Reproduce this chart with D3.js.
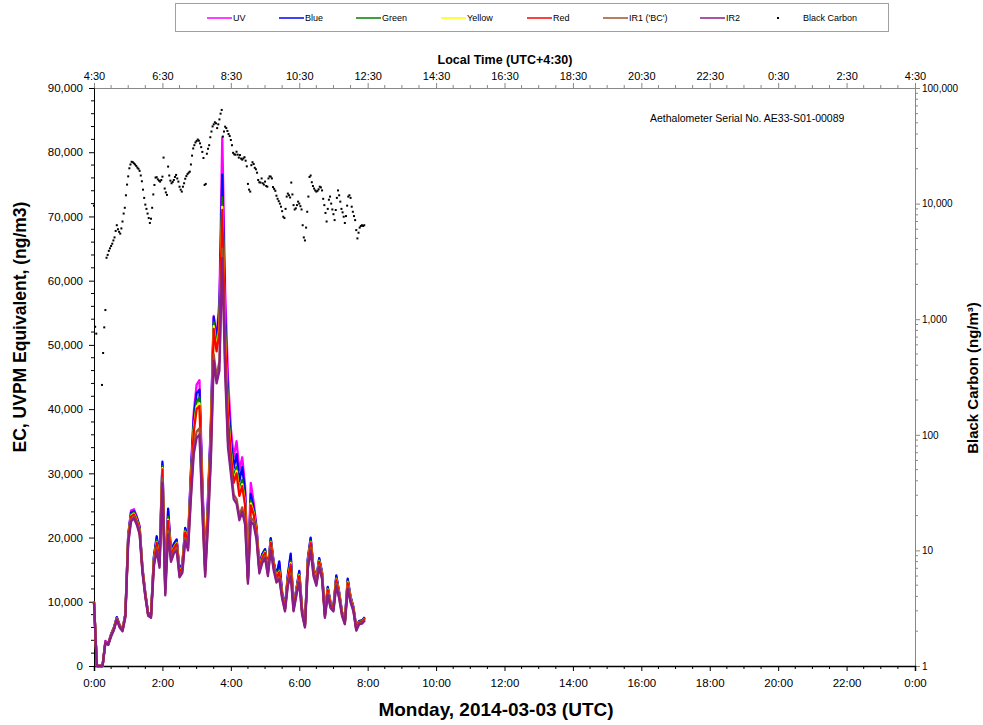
<!DOCTYPE html>
<html>
<head>
<meta charset="utf-8">
<script src="https://cdnjs.cloudflare.com/ajax/libs/d3/7.8.5/d3.min.js"></script>
<style>
  html, body { margin: 0; padding: 0; background: #fff; }
  svg { display: block; font-family: "Liberation Sans", Arial, sans-serif; }
</style>
</head>
<body>
<svg id="chart" width="983" height="725"></svg>
<script>
// Aethalometer AE33 record, Monday 2014-03-03 (UTC). 5-minute means, in µg/m³.
const seriesNames = ["UV", "Blue", "Green", "Yellow", "Red", "IR1 ('BC')", "IR2"];
const seriesColors = ["#ff00ff", "#0000ff", "#008000", "#ffff00", "#ff0000", "#a0522d", "#8b1c8b"];

const uv = [10.0,0,0,0,3.9,3.5,5.0,6.0,7.6,6.4, 5.7,8.1,20.4,24.2,24.4,23.3,21.8,15.3,11.4,8.2,
  8.0,16.8,19.9,16.6,31.4,12.5,24.2,17.7,18.9,19.6, 14.9,15.9,21.4,19.6,30.5,39.5,43.8,44.5,28.8,15.8,
  26.5,38.0,54.5,51.0,57.0,82.3,58.5,45.0,37.0,32.5, 35.0,30.5,32.5,28.0,14.2,28.5,25.5,21.8,15.6,17.4,
  18.1,15.1,19.8,16.2,14.0,16.0,11.3,9.1,14.0,17.2, 9.2,11.9,14.6,8.7,6.5,16.5,19.8,15.2,13.5,16.7,
  14.5,8.1,12.2,9.7,9.2,13.9,11.4,8.4,7.0,13.4, 10.7,9.1,6.0,7.0,7.1,7.6];
const blue = [10.0,0,0,0,3.8,3.5,4.9,6.0,7.6,6.3, 5.7,8.1,20.3,23.9,24.1,23.1,21.6,15.2,11.3,8.2,
  8.0,17.0,20.2,16.8,31.8,12.6,24.5,17.8,19.0,19.7, 14.9,15.9,21.5,19.6,30.0,38.6,42.5,43.0,28.0,15.4,
  25.8,37.3,54.3,50.8,55.5,76.5,54.5,42.0,35.5,30.8, 33.0,28.8,31.0,27.0,13.9,26.8,24.6,21.4,15.5,17.4,
  18.2,15.1,19.9,16.3,14.1,16.3,11.4,9.2,14.2,17.5, 9.3,12.0,14.8,8.8,6.5,16.7,20.0,15.3,13.6,16.8,
  14.6,8.1,12.3,9.8,9.3,14.1,11.5,8.4,7.0,13.6, 10.8,9.2,6.0,7.0,7.1,7.6];
const green = [10.0,0,0,0,3.8,3.5,4.9,5.9,7.5,6.3, 5.6,8.0,20.1,23.6,23.9,22.9,21.4,15.1,11.2,8.1,
  7.9,16.6,19.6,16.4,31.1,12.2,23.2,17.4,18.6,19.3, 14.6,15.6,21.1,19.3,29.2,37.5,41.2,41.8,27.3,15.1,
  25.1,36.4,53.5,50.0,53.5,73.0,52.0,40.0,34.0,29.4, 31.0,27.5,29.0,25.8,13.7,25.8,24.1,21.1,15.3,17.1,
  17.9,14.9,19.5,16.0,13.9,15.0,11.2,9.0,13.7,16.3, 9.1,11.8,14.3,8.6,6.4,16.3,19.5,15.0,13.4,16.5,
  14.4,8.0,12.0,9.6,9.1,13.7,11.3,8.3,6.9,13.2, 10.6,9.0,5.9,6.9,7.0,7.5];
const yellow = [10.0,0,0,0,3.7,3.4,4.8,5.8,7.4,6.2, 5.6,7.9,19.9,23.4,23.7,22.7,21.2,15.0,11.1,8.0,
  7.8,16.4,19.3,16.2,30.8,12.0,22.8,17.2,18.4,19.1, 14.5,15.4,20.9,19.1,28.7,36.8,40.4,40.9,26.8,14.9,
  24.7,35.8,52.9,49.4,52.5,71.5,51.0,39.0,33.4,28.8, 30.4,26.8,28.3,25.3,13.6,25.3,23.8,20.9,15.2,16.9,
  17.7,14.8,19.3,15.9,13.8,14.7,11.1,8.9,13.5,16.0, 9.0,11.7,14.1,8.5,6.3,16.1,19.3,14.9,13.3,16.3,
  14.3,7.9,11.9,9.5,9.0,13.5,11.2,8.2,6.8,13.0, 10.5,8.9,5.8,6.8,6.9,7.4];
const red = [10.0,0,0,0,3.7,3.4,4.8,5.8,7.4,6.2, 5.6,7.9,19.8,23.3,23.6,22.6,21.1,14.9,11.1,8.0,
  7.8,16.3,19.2,16.1,30.6,11.9,22.6,17.1,18.3,19.0, 14.4,15.3,20.8,19.0,28.5,36.5,40.0,40.5,26.6,14.8,
  24.5,35.5,52.5,49.0,52.0,71.0,50.5,38.5,33.0,28.5, 30.0,26.5,28.0,25.0,13.5,25.0,23.6,20.8,15.1,16.8,
  17.6,14.7,19.2,15.8,13.7,14.6,11.0,8.9,13.4,15.8, 9.0,11.6,14.0,8.5,6.3,16.0,19.2,14.8,13.2,16.2,
  14.2,7.9,11.8,9.5,9.0,13.4,11.1,8.2,6.8,12.9, 10.4,8.9,5.8,6.8,6.9,7.4];
const ir1 = [9.9,0,0,0,3.6,3.3,4.7,5.7,7.3,6.1, 5.5,7.7,19.3,22.8,23.3,22.3,20.8,14.7,10.9,7.9,
  7.6,15.8,18.4,15.6,29.2,11.3,21.0,16.5,17.8,18.4, 14.0,14.8,19.9,18.4,26.8,34.0,36.5,37.0,24.7,14.2,
  22.7,33.0,48.5,45.0,47.5,65.0,47.0,35.0,30.8,26.7, 26.0,23.4,24.7,22.6,13.1,23.1,22.6,20.1,14.7,16.3,
  17.1,14.3,18.4,15.3,13.3,13.8,10.7,8.7,12.8,14.4, 8.7,11.2,13.3,8.2,6.1,15.4,18.4,14.3,12.8,15.7,
  13.8,7.7,11.3,9.2,8.7,12.8,10.7,8.0,6.6,12.3, 10.1,8.7,5.6,6.6,6.7,7.2];
const ir2 = [9.8,0,0,0,3.6,3.3,4.6,5.6,7.2,6.0, 5.4,7.6,19.0,22.5,23.0,22.0,20.5,14.5,10.8,7.8,
  7.5,15.5,18.0,15.3,28.5,11.0,20.5,16.2,17.5,18.0, 13.8,14.5,19.5,18.0,26.0,33.0,35.5,36.0,24.0,13.9,
  22.0,32.0,47.5,44.0,46.0,63.5,45.5,34.0,30.0,26.0, 25.3,22.7,24.0,22.0,12.8,22.5,22.0,19.7,14.4,16.0,
  16.8,14.0,18.0,15.0,13.0,13.5,10.5,8.5,12.5,14.0, 8.5,11.0,13.0,8.0,6.0,15.0,18.0,14.0,12.5,15.4,
  13.5,7.5,11.0,9.0,8.5,12.5,10.5,7.8,6.5,12.0, 9.9,8.5,5.5,6.5,6.6,7.1];

// Black carbon, 2-minute values in µg/m³ (null = no valid reading)
const blackCarbon = [9.6,0.86,0.75,null,null,null,null,0.27,0.51,0.85,
  1.2,3.4,3.6,3.9,4.1,4.3,4.5,4.8,5.1,5.8,
  6.5,6.0,5.7,5.5,6.1,7.0,8.2,9.2,11.8,14.6,
  17.2,20.2,21.8,23.0,22.8,22.3,21.8,21.2,20.5,20.0,
  19.2,17.5,15.6,13.2,11.2,9.8,9.0,8.2,7.5,6.8,
  7.4,9.2,12.0,14.5,16.8,16.9,16.2,15.8,15.5,16.0,
  17.1,25.0,13.5,12.5,11.9,20.9,17.5,15.8,15.0,15.4,
  16.0,17.0,17.7,16.5,15.5,14.0,13.2,12.7,14.0,15.0,
  16.4,17.3,18.0,18.5,18.9,21.8,26.0,30.0,32.0,33.8,
  34.8,35.8,35.0,33.2,30.8,28.0,24.8,14.5,14.8,27.0,
  29.8,32.0,37.5,42.0,46.5,48.5,50.5,49.5,45.0,48.5,
  53.5,60.0,64.6,38.0,42.0,46.3,45.0,42.5,40.0,38.4,
  35.5,32.0,27.5,26.7,26.5,28.1,26.5,25.0,26.3,24.5,
  24.0,24.6,25.2,23.5,21.0,14.8,13.2,12.7,21.5,22.8,
  22.0,20.4,19.8,18.5,16.0,15.3,15.2,16.5,15.0,14.6,
  15.5,14.2,14.0,16.5,17.2,17.1,16.5,13.9,13.4,12.9,
  11.7,11.0,10.5,10.0,9.4,8.6,7.7,7.5,9.0,11.5,
  12.2,11.8,11.3,15.2,12.0,9.7,8.9,9.1,9.7,10.4,
  10.0,9.5,8.9,6.5,5.1,4.8,6.2,8.5,11.5,17.0,
  17.5,15.3,14.2,13.5,13.0,12.7,12.9,13.3,14.0,13.8,
  13.0,11.0,9.7,8.3,7.0,9.0,10.8,11.5,10.0,8.9,
  8.1,7.2,8.8,11.2,13.0,11.8,10.4,9.0,8.4,7.7,
  6.8,7.8,9.6,11.5,11.8,11.2,9.4,8.5,7.8,7.2,
  5.9,5.0,5.6,6.2,6.4,6.5,6.4,6.5];

const lineStepMin = 5;   // sampling interval of the wavelength series
const bcStepMin = 2;     // sampling interval of the black carbon series
const utcOffsetMin = 270; // UTC+4:30
const leftTicks = d3.range(0, 90001, 10000);
const rightTicks = [1, 10, 100, 1000, 10000, 100000];
const hourTicks = d3.range(0, 1441, 120);

const svg = d3.select("#chart");
const plot = { left: 94, right: 915, top: 88, bottom: 666 };

const x = d3.scaleLinear().domain([0, 1440]).range([plot.left, plot.right]);
const yL = d3.scaleLinear().domain([0, 90000]).range([plot.bottom, plot.top]);
const yR = d3.scaleLog().domain([1, 100000]).range([plot.bottom, plot.top]);

const fmt = d3.format(",");

// ---- legend ----
const lg = svg.append("g");
lg.append("rect").attr("x", 175.5).attr("y", 3.5).attr("width", 713).attr("height", 28)
  .attr("fill", "#fff").attr("stroke", "#a0a0a0").attr("stroke-width", 1);
const legendX = [207, 279, 356, 441, 527, 603, 700];
seriesNames.forEach((name, i) => {
  lg.append("line").attr("x1", legendX[i]).attr("x2", legendX[i] + 25)
    .attr("y1", 18).attr("y2", 18).attr("stroke", seriesColors[i]).attr("stroke-width", 1.5);
  lg.append("text").attr("x", legendX[i] + 26).attr("y", 21).attr("font-size", 9).attr("fill", "#000").text(name);
});
lg.append("rect").attr("x", 777).attr("y", 17).attr("width", 2).attr("height", 2).attr("fill", "#000");
lg.append("text").attr("x", 803).attr("y", 21).attr("font-size", 9).text("Black Carbon");

// ---- axes ----
const axisFont = g => g.selectAll("text").attr("font-family", "Liberation Sans, Arial, sans-serif");

// minor ticks
const minorG = svg.append("g");
d3.range(0, 90001, 2000).forEach(v => {
  if (v % 10000 === 0) return;
  minorG.append("line").attr("x1", plot.left - 3).attr("x2", plot.left).attr("y1", yL(v)).attr("y2", yL(v))
    .attr("stroke", "#000").attr("stroke-width", 1);
});
d3.range(0, 1441, 30).forEach(m => {
  if (m % 120 === 0) return;
  minorG.append("line").attr("x1", x(m)).attr("x2", x(m)).attr("y1", plot.bottom).attr("y2", plot.bottom + 3)
    .attr("stroke", "#000");
  minorG.append("line").attr("x1", x(m)).attr("x2", x(m)).attr("y1", plot.top).attr("y2", plot.top - 3)
    .attr("stroke", "#888");
});
[1, 10, 100, 1000, 10000].forEach(d => {
  d3.range(2, 10).forEach(k => {
    const v = d * k;
    minorG.append("line").attr("x1", plot.right).attr("x2", plot.right + 3).attr("y1", yR(v)).attr("y2", yR(v))
      .attr("stroke", "#888");
  });
});

// top (local time)
svg.append("g").attr("transform", `translate(0,${plot.top})`)
  .call(d3.axisTop(x).tickValues(hourTicks).tickSize(5).tickPadding(3)
    .tickFormat(m => `${Math.floor((m + utcOffsetMin) / 60) % 24}:30`))
  .call(g => g.select(".domain").attr("stroke", "#888"))
  .call(g => g.selectAll(".tick line").attr("stroke", "#888"))
  .call(g => g.selectAll("text").attr("font-size", 11).attr("fill", "#000"))
  .call(axisFont);

// right (black carbon, log)
svg.append("g").attr("transform", `translate(${plot.right},0)`)
  .call(d3.axisRight(yR).tickValues(rightTicks).tickSize(5).tickPadding(2).tickFormat(fmt))
  .call(g => g.select(".domain").attr("stroke", "#888"))
  .call(g => g.selectAll(".tick line").attr("stroke", "#888"))
  .call(g => g.selectAll("text").attr("font-size", 10).attr("fill", "#000"))
  .call(axisFont);

// left (EC / UVPM)
svg.append("g").attr("transform", `translate(${plot.left},0)`)
  .call(d3.axisLeft(yL).tickValues(leftTicks).tickSize(5).tickPadding(6).tickFormat(fmt))
  .call(g => g.select(".domain").attr("stroke", "#000"))
  .call(g => g.selectAll("text").attr("font-size", 11.5).attr("fill", "#000"))
  .call(axisFont);

// bottom (UTC)
svg.append("g").attr("transform", `translate(0,${plot.bottom})`)
  .call(d3.axisBottom(x).tickValues(hourTicks).tickSize(5).tickPadding(8)
    .tickFormat(m => `${Math.floor(m / 60) % 24}:00`))
  .call(g => g.select(".domain").attr("stroke", "#000").attr("stroke-width", 1.5))
  .call(g => g.selectAll("text").attr("font-size", 11.5).attr("fill", "#000"))
  .call(axisFont);

// ---- wavelength series ----
const allSeries = [uv, blue, green, yellow, red, ir1, ir2];
const line = d3.line()
  .x((d, i) => x(i * lineStepMin))
  .y(d => yL(d * 1000));
const linesG = svg.append("g");
allSeries.forEach((vals, i) => {
  linesG.append("path").datum(vals)
    .attr("d", line)
    .attr("fill", "none")
    .attr("stroke", seriesColors[i])
    .attr("stroke-width", 2.3)
    .attr("stroke-linejoin", "round");
});

// ---- black carbon points ----
const bcPoints = blackCarbon.map((v, i) => ({ t: i * bcStepMin, v }))
  .filter(d => d.v !== null);
svg.append("g").selectAll("rect").data(bcPoints).join("rect")
  .attr("x", d => x(d.t) - 1)
  .attr("y", d => yR(d.v * 1000) - 1)
  .attr("width", 2).attr("height", 2)
  .attr("fill", "#000");

// ---- titles ----
svg.append("text").attr("x", 505).attr("y", 64).attr("text-anchor", "middle")
  .attr("font-size", 12.5).attr("font-weight", "bold").text("Local Time (UTC+4:30)");
svg.append("text").attr("x", 496).attr("y", 716).attr("text-anchor", "middle")
  .attr("font-size", 19).attr("font-weight", "bold").text("Monday, 2014-03-03 (UTC)");
svg.append("text").attr("transform", `translate(26,327) rotate(-90)`).attr("text-anchor", "middle")
  .attr("font-size", 17.5).attr("font-weight", "bold").text("EC, UVPM Equivalent, (ng/m3)");
svg.append("text").attr("transform", `translate(978,378) rotate(-90)`).attr("text-anchor", "middle")
  .attr("font-size", 15).attr("font-weight", "bold").text("Black Carbon (ng/m³)");
svg.append("text").attr("x", 650).attr("y", 122).attr("font-size", 10.5)
  .text("Aethalometer Serial No. AE33-S01-00089");
</script>
</body>
</html>
